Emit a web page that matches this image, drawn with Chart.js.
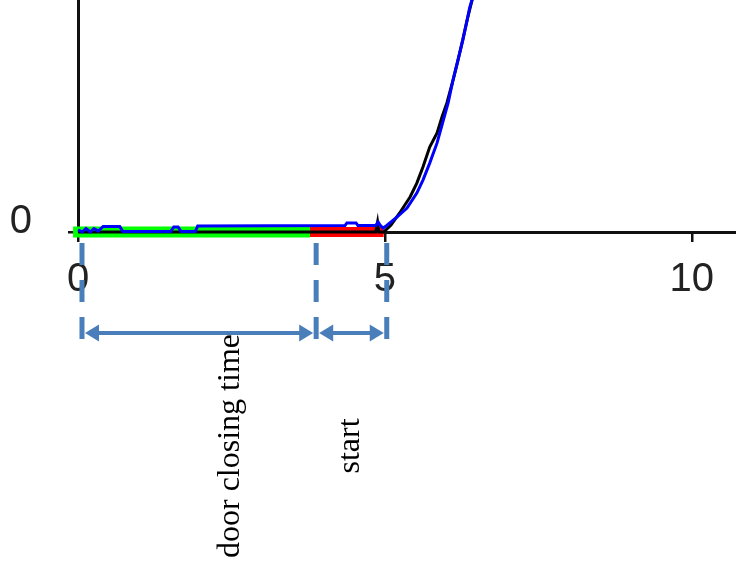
<!DOCTYPE html>
<html>
<head>
<meta charset="utf-8">
<script src="https://cdn.jsdelivr.net/npm/chart.js@4.4.1/dist/chart.umd.min.js"></script>
<style>
  html, body { margin: 0; padding: 0; background: #fff; }
  #wrap { width: 736px; height: 563px; position: relative; }
</style>
</head>
<body>
<div id="wrap"><canvas id="chart"></canvas></div>
<script>
  // ---- DATA ----
  const xTicks = [0, 5, 10];
  const yTicks = [0];

  // measured signal (blue)
  const blueX = [0, 0.07, 0.13, 0.2, 0.26, 0.33, 0.41, 0.68, 0.73, 1.51, 1.56, 1.63, 1.68, 1.91, 1.95,
                 4.35, 4.38, 4.53, 4.56, 4.85, 4.89, 4.92, 4.97, 5.02,
                 5.2, 5.36, 5.52, 5.62, 5.73, 5.85, 5.94, 6.03, 6.11, 6.19, 6.27, 6.34, 6.38, 6.43];
  const blueY = [0.9, 0, 1.5, 0, 1.5, 0.4, 2.4, 2.4, 0.2, 0.2, 2.2, 2.2, 0.2, 0.2, 2.6,
                 2.8, 3.9, 3.9, 2.8, 2.8, 4.3, 3.0, 1.7, 2.6,
                 6.5, 10.3, 16.8, 22.4, 29.7, 38.4, 47.0, 55.6, 65.5, 74.1, 82.8, 91.4, 96.6, 101];

  // reference signal (black)
  const blackX = [0, 4.85, 4.88, 4.9, 4.98, 5.1, 5.24, 5.41, 5.52, 5.62, 5.73, 5.85, 5.93, 6.01,
                  6.11, 6.19, 6.27, 6.34, 6.43];
  const blackY = [0, 0, 4.2, 0, 0, 3.0, 8.2, 15.1, 21.1, 28.0, 36.6, 42.7, 49.6, 55.6,
                  65.5, 74.0, 83.0, 91.4, 101];

  // phases on the baseline
  const greenX = [-0.08, 3.78];
  const greenY = [0, 0];
  const redX = [3.78, 4.98];
  const redY = [0, 0];

  // annotation below the axis
  const markerX = [0.065, 3.88, 5.03];
  const spanLabels = ['door closing time', 'start'];
  const spanLabelX = [2.62, 4.58];

  const pts = (xs, ys) => xs.map((x, i) => ({ x, y: ys[i] }));

  const guideColor = '#4a7ebb';
  const axisColor = '#111';

  // ---- ANNOTATION PLUGIN ----
  function arrow(ctx, x1, x2, y) {
    const len = 14, half = 8.5;
    ctx.beginPath();
    ctx.moveTo(x1 + len - 2, y);
    ctx.lineTo(x2 - len + 2, y);
    ctx.stroke();
    ctx.beginPath();
    ctx.moveTo(x1, y);
    ctx.lineTo(x1 + len, y - half);
    ctx.lineTo(x1 + len, y + half);
    ctx.closePath();
    ctx.fill();
    ctx.beginPath();
    ctx.moveTo(x2, y);
    ctx.lineTo(x2 - len, y - half);
    ctx.lineTo(x2 - len, y + half);
    ctx.closePath();
    ctx.fill();
  }

  const annotate = {
    id: 'annotate',
    afterDraw(chart) {
      const { ctx, chartArea } = chart;
      const xs = chart.scales.x;
      const base = chartArea.bottom;
      const px = markerX.map(v => xs.getPixelForValue(v));
      ctx.save();
      ctx.strokeStyle = guideColor;
      ctx.fillStyle = guideColor;
      ctx.lineWidth = 5;
      ctx.setLineDash([22, 15]);
      px.forEach(p => {
        ctx.beginPath();
        ctx.moveTo(p, base + 11);
        ctx.lineTo(p, base + 107);
        ctx.stroke();
      });
      ctx.setLineDash([]);
      ctx.lineWidth = 4;
      for (let i = 0; i < px.length - 1; i++) {
        arrow(ctx, px[i] + 3, px[i + 1] - 3, base + 101);
      }
      ctx.fillStyle = '#000';
      ctx.font = '32px "Liberation Serif", "Times New Roman", serif';
      ctx.textAlign = 'center';
      ctx.textBaseline = 'alphabetic';
      spanLabels.forEach((t, i) => {
        ctx.save();
        ctx.translate(xs.getPixelForValue(spanLabelX[i]), base + 214);
        ctx.rotate(-Math.PI / 2);
        ctx.fillText(t, 0, 0);
        ctx.restore();
      });
      ctx.restore();
    }
  };

  // ---- CHART ----
  const tickFont = { family: '"Liberation Sans", Arial, sans-serif', size: 40 };

  function noPad(s) {
    s.paddingTop = 0;
    s.paddingBottom = 0;
    s.paddingLeft = 0;
    s.paddingRight = 0;
  }

  new Chart(document.getElementById('chart'), {
    type: 'line',
    data: {
      datasets: [
        { data: pts(blueX, blueY), borderColor: '#0000ff', borderWidth: 3, order: 1, clip: false },
        { data: pts(blackX, blackY), borderColor: '#000000', borderWidth: 3, order: 2, clip: false },
        { data: pts(redX, redY), borderColor: '#ff0000', borderWidth: 10, order: 3, clip: false },
        { data: pts(greenX, greenY), borderColor: '#00ff00', borderWidth: 11, order: 4, clip: false }
      ]
    },
    options: {
      responsive: true,
      maintainAspectRatio: false,
      animation: false,
      events: [],
      layout: { padding: 0 },
      elements: {
        point: { radius: 0 },
        line: { tension: 0, fill: false, borderCapStyle: 'butt' }
      },
      plugins: { legend: { display: false }, tooltip: { enabled: false } },
      scales: {
        x: {
          type: 'linear',
          min: 0,
          max: 10.72,
          afterBuildTicks: s => { s.ticks = xTicks.map(v => ({ value: v })); },
          afterFit: s => { s.height = 331; noPad(s); },
          border: { display: true, color: axisColor, width: 3 },
          grid: { drawOnChartArea: false, drawTicks: true, tickLength: 10, color: axisColor, lineWidth: 2.5 },
          ticks: { font: tickFont, color: '#222', padding: 14, maxRotation: 0 }
        },
        y: {
          type: 'linear',
          min: 0,
          max: 100,
          afterBuildTicks: s => { s.ticks = yTicks.map(v => ({ value: v })); },
          afterFit: s => { s.width = 78; noPad(s); },
          border: { display: true, color: axisColor, width: 3 },
          grid: { drawOnChartArea: false, drawTicks: true, tickLength: 10, color: axisColor, lineWidth: 2.5 },
          ticks: { font: tickFont, color: '#222', padding: 36, labelOffset: -10 }
        }
      }
    },
    plugins: [annotate]
  });
</script>
</body>
</html>
